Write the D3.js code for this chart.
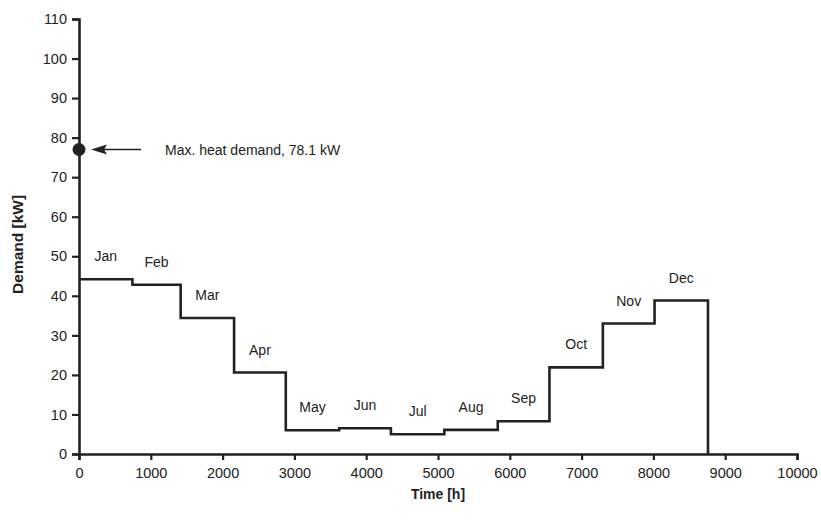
<!DOCTYPE html>
<html>
<head>
    <meta charset="utf-8">
    <title>Heat demand</title>
    <script src="https://d3js.org/d3.v7.min.js"></script>
    <style>
        body { margin: 0; background: #fff; }
        text { font-family: "Liberation Sans", Arial, sans-serif; fill: #222; }
    </style>
</head>
<body>
    <svg id="chart" width="821" height="520"></svg>

    <script>
        // monthly mean heat demand, kW
        const months = ['Jan', 'Feb', 'Mar', 'Apr', 'May', 'Jun', 'Jul', 'Aug', 'Sep', 'Oct', 'Nov', 'Dec'];
        const monthEnds = [744, 1416, 2160, 2880, 3624, 4344, 5088, 5832, 6552, 7296, 8016, 8760];
        const demand = [44.2, 42.8, 34.4, 20.6, 6.0, 6.5, 5.0, 6.1, 8.3, 21.9, 33.0, 38.8];
        const xTicks = [0, 1000, 2000, 3000, 4000, 5000, 6000, 7000, 8000, 9000, 10000];
        const yTicks = [0, 10, 20, 30, 40, 50, 60, 70, 80, 90, 100, 110];
        const maxDemandPlotted = 77;
        const maxDemandText = "Max. heat demand, 78.1 kW";

        const svg = d3.select("#chart");
        const x = d3.scaleLinear().domain([0, 10000]).range([79, 797]);
        const y = d3.scaleLinear().domain([0, 110]).range([454, 19]);

        // axes
        const xAxis = svg.append("g")
            .attr("transform", "translate(0," + y(0) + ")")
            .call(d3.axisBottom(x).tickValues(xTicks).tickSize(6).tickPadding(8).tickFormat(d3.format("d")));
        const yAxis = svg.append("g")
            .attr("transform", "translate(" + x(0) + ",0)")
            .call(d3.axisLeft(y).tickValues(yTicks).tickSize(7).tickPadding(5).tickFormat(d3.format("d")));

        [xAxis, yAxis].forEach(function (g) {
            g.select(".domain").attr("stroke", "#222").attr("stroke-width", 2.6);
            g.selectAll(".tick line").attr("stroke", "#222").attr("stroke-width", 2.2);
            g.selectAll(".tick text").attr("font-size", 14.5).attr("font-family", "Liberation Sans, Arial, sans-serif").attr("fill", "#222");
        });

        svg.append("text")
            .attr("x", x(5000))
            .attr("y", 499)
            .attr("text-anchor", "middle")
            .attr("font-size", 14)
            .attr("font-weight", "bold")
            .text("Time [h]");

        svg.append("text")
            .attr("transform", "translate(23," + y(53) + ") rotate(-90)")
            .attr("text-anchor", "middle")
            .attr("font-size", 15.5)
            .attr("font-weight", "bold")
            .text("Demand [kW]");

        // step line
        const pts = [[0, demand[0]]];
        demand.forEach(function (d, i) {
            const start = i === 0 ? 0 : monthEnds[i - 1];
            if (i > 0) pts.push([start, d]);
            pts.push([monthEnds[i], d]);
        });
        pts.push([monthEnds[monthEnds.length - 1], 0]);

        svg.append("path")
            .datum(pts)
            .attr("fill", "none")
            .attr("stroke", "#222")
            .attr("stroke-width", 2.6)
            .attr("d", d3.line().x(function (d) { return x(d[0]); }).y(function (d) { return y(d[1]); }));

        // month labels
        svg.selectAll(".mlabel")
            .data(months)
            .enter().append("text")
            .attr("class", "mlabel")
            .attr("x", function (d, i) { return x(((i === 0 ? 0 : monthEnds[i - 1]) + monthEnds[i]) / 2); })
            .attr("y", function (d, i) { return y(demand[i]) - 18; })
            .attr("text-anchor", "middle")
            .attr("font-size", 14)
            .text(function (d) { return d; });

        // max demand marker
        const my = y(maxDemandPlotted);
        svg.append("circle")
            .attr("cx", x(0))
            .attr("cy", my)
            .attr("r", 6.5)
            .attr("fill", "#222");

        svg.append("line")
            .attr("x1", x(0) + 62).attr("x2", x(0) + 24)
            .attr("y1", my).attr("y2", my)
            .attr("stroke", "#222")
            .attr("stroke-width", 1.6);

        svg.append("path")
            .attr("d", "M" + (x(0) + 12) + "," + my +
                " L" + (x(0) + 28) + "," + (my - 5) +
                " L" + (x(0) + 25) + "," + my +
                " L" + (x(0) + 28) + "," + (my + 5) + " Z")
            .attr("fill", "#222");

        svg.append("text")
            .attr("x", x(0) + 86)
            .attr("y", my + 5)
            .attr("font-size", 14)
            .text(maxDemandText);
    </script>
</body>
</html>
